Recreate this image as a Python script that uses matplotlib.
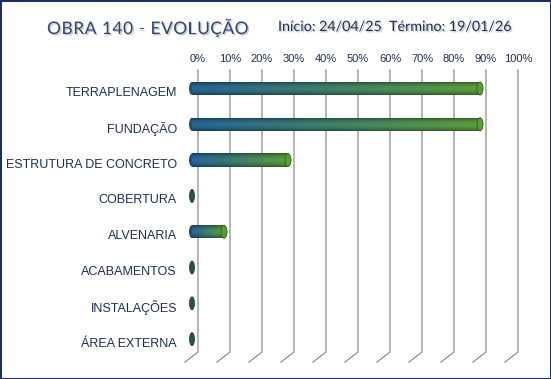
import matplotlib
matplotlib.use("Agg")

import numpy as np
import matplotlib.pyplot as plt
import matplotlib.patheffects as pe
from matplotlib.patches import Ellipse, Rectangle
from matplotlib.transforms import ScaledTranslation

categories = ["TERRAPLENAGEM", "FUNDAÇÃO", "ESTRUTURA DE CONCRETO", "COBERTURA",
              "ALVENARIA", "ACABAMENTOS", "INSTALAÇÕES", "ÁREA EXTERNA"]
progress = [90, 90, 30, 0, 10, 0, 0, 0]
ticks = [0, 10, 20, 30, 40, 50, 60, 70, 80, 90, 100]
tick_labels = [f"{t}%" for t in ticks]
title = "OBRA 140 - EVOLUÇÃO"
subtitle = "Início: 24/04/25  Término: 19/01/26"

W, H, DPI = 551, 379, 100
NAVY = "#1f2d55"
BLUE = np.array([0.14, 0.37, 0.55])
GREEN = np.array([0.34, 0.58, 0.22])

fig = plt.figure(figsize=(W / DPI, H / DPI), dpi=DPI)
fig.patch.set_facecolor("white")

# plot area = back wall of the excel 3d chart (pixels)
left_px, right_px, top_px, bot_px = 198, 518, 70, 352
ax = fig.add_axes([left_px / W, 1 - bot_px / H, (right_px - left_px) / W, (bot_px - top_px) / H])
ylim = (7.36, -0.517)
ax.set_xlim(0, 100)
ax.set_ylim(*ylim)
for s in ax.spines.values():
    s.set_visible(False)
ax.set_facecolor("none")

ux = 100 / (right_px - left_px)              # data units per pixel (x)
uy = (ylim[0] - ylim[1]) / (bot_px - top_px)  # data units per pixel (y)

# gridlines + depth tails
for t in ticks:
    ax.plot([t, t, t - 13 * ux], [ylim[1], ylim[0], ylim[0] + 10 * uy],
            color="#8c8c8c", lw=0.9, clip_on=False, zorder=1)

ax.xaxis.tick_top()
ax.set_xticks(ticks)
ax.set_xticklabels(tick_labels, fontsize=8, color=NAVY, family="Liberation Sans")
ax.tick_params(axis="x", length=0, pad=4)
ax.set_yticks([])

# bars drawn at mid depth (shifted left)
dx = -6 * ux
bar_h = 13 * uy
cap_w = 6 * ux

rows = np.linspace(0, 1, 40)
shade = 0.62 + 0.45 * np.sin(np.pi * rows) ** 0.8
cols = np.linspace(0, 1, 120)
for i, v in enumerate(progress):
    if v <= 0:
        ax.add_patch(Ellipse((dx, i), 5 * ux, bar_h, facecolor="#2b5244",
                             edgecolor="#1f3d33", lw=0.5, zorder=3, clip_on=False))
        continue
    base = BLUE[None, :] * (1 - cols[:, None]) + GREEN[None, :] * cols[:, None]
    rgb = np.clip(shade[:, None, None] * base[None, :, :], 0, 1)
    img = np.concatenate([rgb, np.ones(rgb.shape[:2] + (1,))], axis=2)
    ax.add_patch(Ellipse((dx, i), cap_w, bar_h, facecolor=BLUE * 0.85,
                         edgecolor="none", zorder=2, clip_on=False))
    ax.imshow(img, extent=[dx, v + dx, i + bar_h / 2, i - bar_h / 2],
              aspect="auto", interpolation="bilinear", zorder=3, clip_on=False)
    ax.add_patch(Ellipse((v + dx, i), cap_w, bar_h, facecolor=GREEN * 1.05,
                         edgecolor=GREEN * 0.6, lw=0.6, zorder=4, clip_on=False))

ax.set_xlim(0, 100)
ax.set_ylim(*ylim)

# category labels
lab_tr = ax.transData + ScaledTranslation(-21 / DPI, -4.5 / DPI, fig.dpi_scale_trans)
for i, name in enumerate(categories):
    ax.text(0, i, name, transform=lab_tr, ha="right", va="center",
            fontsize=9, color=NAVY, family="Liberation Sans")


def spaced_text(x, y, s, gap, space, **kw):
    r = fig.canvas.get_renderer()
    for ch in s:
        if ch == " ":
            x += space
            continue
        t = fig.text(x / W, 1 - y / H, ch, va="center", ha="left", **kw)
        x += t.get_window_extent(r).width + gap


shadow = [pe.SimplePatchShadow(offset=(1, -1), shadow_rgbFace="#888888", alpha=0.45), pe.Normal()]
spaced_text(47, 29, title, 0.5, 5, fontsize=12.5, color="#2e4576", family="Lato",
            path_effects=shadow)
fig.text(278 / W, 1 - 27 / H, subtitle, ha="left", va="center", fontsize=10.3,
         color=NAVY, family="Lato", path_effects=shadow)

fig.patches.append(Rectangle((0, 0), 1, 1, transform=fig.transFigure, fill=False,
                             edgecolor="#1c2f5e", lw=2.2, figure=fig))

fig.savefig("out.png", dpi=DPI)
